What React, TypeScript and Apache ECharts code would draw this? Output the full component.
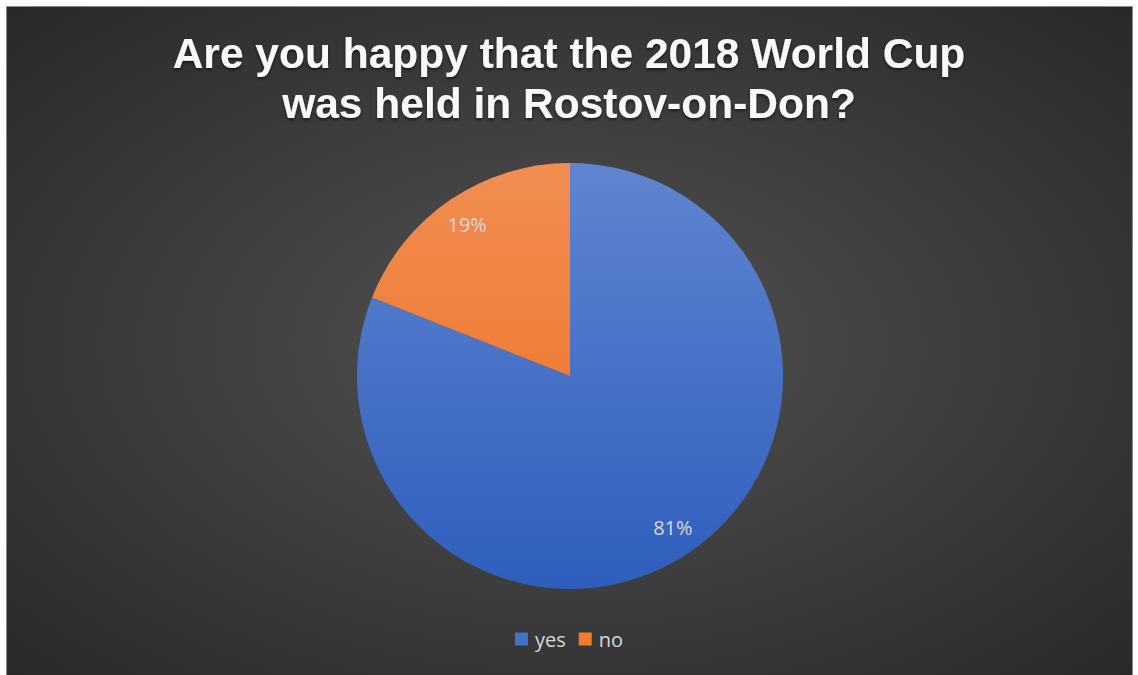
import React, { useEffect, useRef } from "react";
import * as echarts from "echarts";

const titleLines = ["Are you happy that the 2018 World Cup", "was held in Rostov-on-Don?"];
const categories = ["yes", "no"];
const values = [81, 19];
const topColors = ["#6085d0", "#f28d52"];
const bottomColors = ["#2e5ebd", "#ea6e1c"];
const legendColors = ["#4472c4", "#ed7d31"];

export default function App() {
  const ref = useRef<HTMLDivElement>(null);
  useEffect(() => {
    document.body.style.margin = "0";
    const chart = echarts.init(ref.current!, null, { renderer: "svg" });
    const R = 213;
    const cx = 570;
    const cy = 376;
    const data = categories.map((c, i) => ({
      name: c,
      value: values[i],
      itemStyle: {
        color: {
          type: "linear",
          x: 0, y: cy - R, x2: 0, y2: cy + R,
          global: true,
          colorStops: [
            { offset: 0, color: topColors[i] },
            { offset: 1, color: bottomColors[i] },
          ],
        } as any,
      },
    }));
    chart.setOption({
      animation: false,
      backgroundColor: "#ffffff",
      graphic: [
        {
          type: "rect",
          z: -10,
          shape: { x: 6.5, y: 6.5, width: 1126, height: 675 },
          style: {
            fill: {
              type: "radial",
              x: 0.5, y: 0.5, r: 0.75,
              colorStops: [
                { offset: 0, color: "#525252" },
                { offset: 1, color: "#262626" },
              ],
            } as any,
            stroke: "#8a8a8a",
            lineWidth: 1,
          },
        },
      ],
      title: titleLines.map((t, i) => ({
        text: t,
        left: "center",
        top: 31 + i * 50,
        padding: 0,
        textStyle: {
          color: "#f8f8f8",
          fontFamily: "Liberation Sans",
          fontWeight: "bold",
          fontSize: 42.5,
          lineHeight: 45,
          textShadowColor: "rgba(0,0,0,0.55)",
          textShadowBlur: 3,
          textShadowOffsetY: 2,
        },
      })),
      legend: {
        data: categories.map((c, i) => ({ name: c, itemStyle: { color: legendColors[i] } })),
        bottom: 21,
        left: "center",
        icon: "rect",
        itemWidth: 13,
        itemHeight: 13,
        itemGap: 13,
        textStyle: { color: "#d9d9d9", fontSize: 20, fontFamily: "Open Sans", padding: [0, 0, 0, 2] },
      },
      series: [
        {
          type: "pie",
          center: [cx, cy],
          radius: [0, R],
          startAngle: 90,
          clockwise: true,
          label: { show: false },
          labelLine: { show: false },
          silent: true,
          data,
        },
        {
          type: "pie",
          center: [cx, cy],
          radius: [R * 0.69, R],
          startAngle: 90,
          clockwise: true,
          silent: true,
          itemStyle: { color: "transparent" },
          label: {
            show: true,
            position: "inside",
            formatter: "{c}%",
            color: "#d9d9d9",
            fontSize: 20,
            fontFamily: "Open Sans",
          },
          labelLine: { show: false },
          data: categories.map((c, i) => ({ name: c, value: values[i] })),
        },
      ],
    });
    return () => chart.dispose();
  }, []);
  return <div ref={ref} style={{ width: 1138, height: 675 }} />;
}
